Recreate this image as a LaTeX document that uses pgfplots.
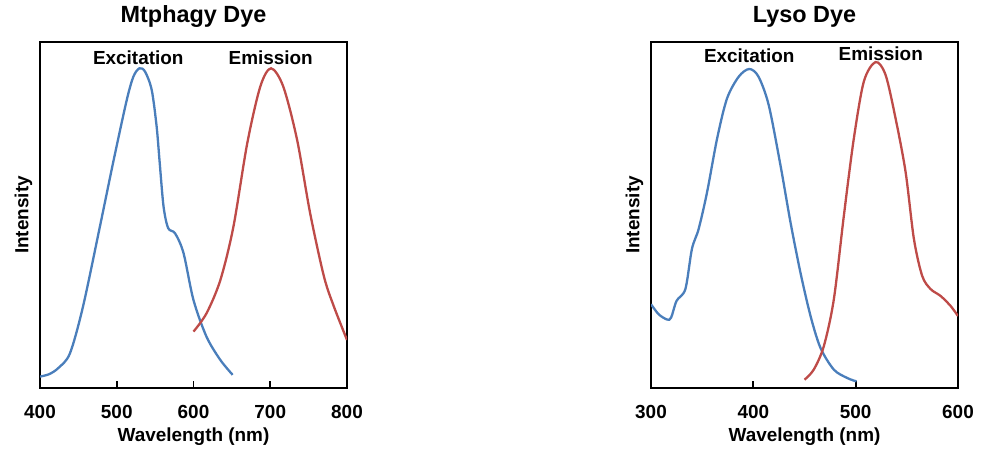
\documentclass[border=0pt]{standalone}
\usepackage{fontspec}
\setmainfont{Liberation Sans}
\usepackage{pgfplots}
\pgfplotsset{compat=1.18}

\definecolor{exblue}{HTML}{4A7EBB}
\definecolor{emred}{HTML}{BE4B48}

\pgfplotsset{
  dyeplot/.style={
    scale only axis,
    width=307bp, height=346bp,
    anchor=south west,
    ymin=0, ymax=1,
    ytick=\empty,
    xtick pos=bottom,
    tick align=inside,
    major tick length=7bp,
    axis line style={line width=1.8bp},
    every tick/.style={line width=1.8bp, black},
    /pgf/number format/assume math mode=true,
    tick label style={font=\fontsize{19}{22}\selectfont\bfseries},
    xticklabel style={anchor=base, yshift=-30.6bp},
    label style={font=\fontsize{19}{22}\selectfont\bfseries},
    xlabel style={at={(axis description cs:0.5,-0.155)}, anchor=base},
    ylabel style={at={(axis description cs:-0.038,0.5)}, anchor=base},
    title style={at={(axis description cs:0.5,1.0405)}, anchor=base,
                 font=\fontsize{23.5}{26}\selectfont\bfseries},
    xlabel={Wavelength (nm)},
    ylabel={Intensity},
  },
  curve/.style={line width=2.3bp, smooth, no markers},
}

\begin{document}
\begin{tikzpicture}
\path[use as bounding box] (-40bp,-62bp) rectangle (941bp,388bp);

% left panel
\begin{axis}[dyeplot, at={(0,0)},
  xmin=400, xmax=800, xtick={400,500,...,800},
  title={Mtphagy Dye}]
\addplot[curve, exblue] coordinates {
  (400,0.033) (412,0.040) (424,0.058) (439,0.100) (456,0.235) (478,0.466)
  (496,0.659) (513,0.832) (521.7,0.900) (529.6,0.924) (537,0.914)
  (545.6,0.861) (552,0.755) (556,0.650) (561,0.524) (567,0.462) (576,0.447)
  (587,0.390) (600,0.254) (617,0.148) (635,0.081) (651,0.038)
};
\addplot[curve, emred] coordinates {
  (600,0.163) (617,0.216) (635,0.312) (652,0.466) (670,0.707) (687,0.871)
  (701,0.924) (717,0.871) (735,0.717) (752,0.505) (770,0.322) (783,0.235)
  (800,0.139)
};
\node[font=\fontsize{19}{22}\selectfont\bfseries] at (axis cs:528,0.954) {Excitation};
\node[font=\fontsize{19}{22}\selectfont\bfseries] at (axis cs:700.6,0.954) {Emission};
\end{axis}

% right panel
\begin{axis}[dyeplot, at={(611bp,0)},
  xmin=300, xmax=600, xtick={300,400,500,600},
  title={Lyso Dye}]
\addplot[curve, exblue] coordinates {
  (300,0.242) (307.5,0.213) (315.6,0.198) (319.6,0.203) (325,0.252)
  (333.6,0.286) (340,0.402) (346.6,0.460) (354.8,0.566) (364.6,0.721)
  (374.3,0.837) (385.8,0.900) (396,0.922) (405,0.900) (415,0.818)
  (426.5,0.644) (436.3,0.479) (446,0.334) (455.9,0.208) (465.6,0.116)
  (478.7,0.053) (491.7,0.029) (500.8,0.019)
};
\addplot[curve, emred] coordinates {
  (450,0.024) (459,0.053) (468.9,0.121) (478.7,0.257) (488.5,0.499)
  (498.2,0.721) (508,0.886) (519.4,0.942) (529.2,0.905) (539,0.779)
  (548.8,0.624) (556.9,0.431) (565,0.324) (573.2,0.286) (583,0.266)
  (592.8,0.237) (600,0.208)
};
\node[font=\fontsize{19}{22}\selectfont\bfseries] at (axis cs:396,0.959) {Excitation};
\node[font=\fontsize{19}{22}\selectfont\bfseries] at (axis cs:524.5,0.965) {Emission};
\end{axis}
\end{tikzpicture}
\end{document}
